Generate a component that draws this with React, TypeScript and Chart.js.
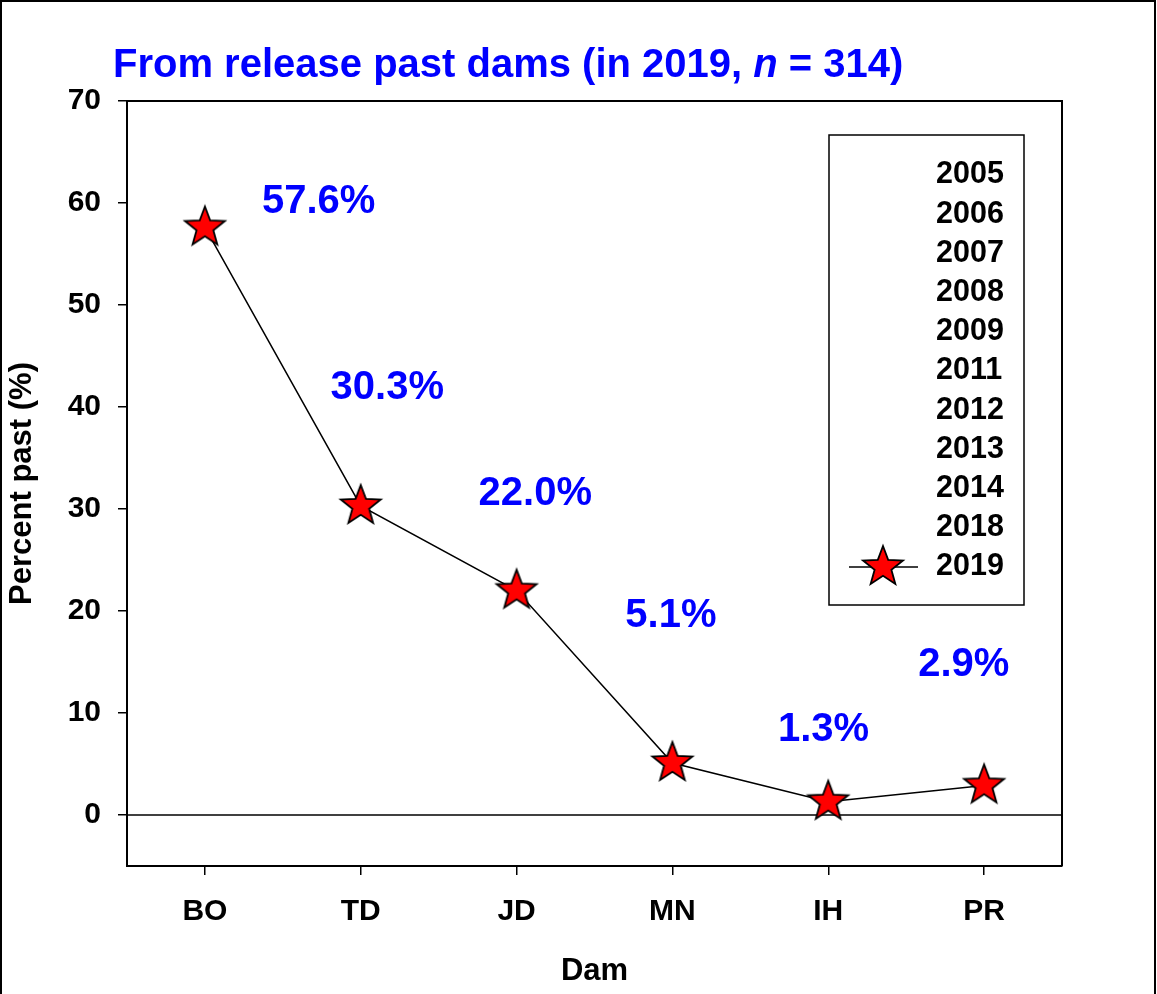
import React, { useEffect, useRef } from "react";
import { Chart, registerables } from "chart.js";

Chart.register(...registerables);

const DAMS = ["BO", "TD", "JD", "MN", "IH", "PR"];
const PERCENT_PAST_2019 = [57.6, 30.3, 22.0, 5.1, 1.3, 2.9];
const VALUE_LABELS = ["57.6%", "30.3%", "22.0%", "5.1%", "1.3%", "2.9%"];
// label anchors in data units (category index, percent)
const LABEL_ANCHOR_X = [0.73, 1.17, 2.12, 2.99, 3.97, 4.87];
const LABEL_ANCHOR_Y = [60.1, 41.9, 31.5, 19.5, 8.3, 14.7];
const Y_TICKS = [0, 10, 20, 30, 40, 50, 60, 70];
const LEGEND_YEARS = ["2005", "2006", "2007", "2008", "2009", "2011", "2012", "2013", "2014", "2018", "2019"];
const MARKED_YEAR = "2019";

const FONT = "'Liberation Sans', Arial, Helvetica, sans-serif";
const BLUE = "#0000FF";

function makeStar(R: number, fill: string, stroke: string, lw: number): HTMLCanvasElement {
  const size = Math.ceil(2 * R + lw * 2 + 4);
  const c = document.createElement("canvas");
  c.width = size;
  c.height = size;
  const ctx = c.getContext("2d")!;
  const cx = size / 2;
  const cy = size / 2;
  const r = R * 0.42;
  ctx.beginPath();
  for (let i = 0; i < 10; i++) {
    const rad = i % 2 === 0 ? R : r;
    const a = -Math.PI / 2 + (i * Math.PI) / 5;
    const x = cx + rad * Math.cos(a);
    const y = cy + rad * Math.sin(a);
    if (i === 0) ctx.moveTo(x, y);
    else ctx.lineTo(x, y);
  }
  ctx.closePath();
  ctx.fillStyle = fill;
  ctx.fill();
  ctx.lineWidth = lw;
  ctx.strokeStyle = stroke;
  ctx.lineJoin = "miter";
  ctx.stroke();
  return c;
}

export default function App() {
  const ref = useRef<HTMLCanvasElement | null>(null);

  useEffect(() => {
    document.body.style.margin = "0";
    const canvas = ref.current;
    if (!canvas) return;
    const star = makeStar(21, "#FF0000", "#000000", 1.8);

    const decorPlugin = {
      id: "decor",
      beforeDraw(chart: any) {
        const ctx = chart.ctx;
        ctx.save();
        ctx.fillStyle = "#fff";
        ctx.fillRect(0, 0, chart.width, chart.height);
        ctx.restore();
      },
      afterDatasetsDraw(chart: any) {
        const ctx = chart.ctx;
        const { left, right, top, bottom } = chart.chartArea;
        const xs = chart.scales.x;
        const ys = chart.scales.y;
        ctx.save();
        // frame top/right
        ctx.strokeStyle = "#000";
        ctx.lineWidth = 2;
        ctx.beginPath();
        ctx.moveTo(left, top);
        ctx.lineTo(right, top);
        ctx.lineTo(right, bottom);
        ctx.stroke();
        // value labels
        ctx.fillStyle = BLUE;
        ctx.font = `bold 40px ${FONT}`;
        ctx.textAlign = "center";
        ctx.textBaseline = "middle";
        VALUE_LABELS.forEach((t, i) => {
          ctx.fillText(t, xs.getPixelForValue(LABEL_ANCHOR_X[i]), ys.getPixelForValue(LABEL_ANCHOR_Y[i]));
        });
        // title
        ctx.textAlign = "left";
        ctx.textBaseline = "alphabetic";
        const tx = 113;
        const ty = 77;
        const p1 = "From release past dams (in 2019, ";
        const p2 = "n";
        const p3 = " = 314)";
        ctx.font = `bold 40px ${FONT}`;
        ctx.fillText(p1, tx, ty);
        const w1 = ctx.measureText(p1).width;
        ctx.font = `italic bold 40px ${FONT}`;
        ctx.fillText(p2, tx + w1, ty);
        const w2 = ctx.measureText(p2).width;
        ctx.font = `bold 40px ${FONT}`;
        ctx.fillText(p3, tx + w1 + w2, ty);
        // legend
        const lx = 829, ly = 135, lw = 195, lh = 470;
        ctx.fillStyle = "#fff";
        ctx.fillRect(lx, ly, lw, lh);
        ctx.strokeStyle = "#000";
        ctx.lineWidth = 1.5;
        ctx.strokeRect(lx, ly, lw, lh);
        ctx.fillStyle = "#000";
        ctx.font = `bold 30.5px ${FONT}`;
        ctx.textBaseline = "middle";
        LEGEND_YEARS.forEach((yr, i) => {
          const yy = 175 + i * 39.2;
          ctx.fillStyle = "#000";
          ctx.fillText(yr, 936, yy);
          if (yr === MARKED_YEAR) {
            ctx.lineWidth = 1.5;
            ctx.beginPath();
            ctx.moveTo(849, yy);
            ctx.lineTo(918, yy);
            ctx.stroke();
            ctx.drawImage(star, 883 - star.width / 2, yy - star.height / 2);
          }
        });
        // page frame
        ctx.strokeStyle = "#000";
        ctx.lineWidth = 2;
        ctx.beginPath();
        ctx.moveTo(1, chart.height);
        ctx.lineTo(1, 1);
        ctx.lineTo(1155, 1);
        ctx.lineTo(1155, chart.height);
        ctx.stroke();
        ctx.restore();
      },
      beforeDatasetsDraw(chart: any) {
        const ctx = chart.ctx;
        const { left, right } = chart.chartArea;
        const y0 = chart.scales.y.getPixelForValue(0);
        ctx.save();
        ctx.strokeStyle = "#000";
        ctx.lineWidth = 1.6;
        ctx.beginPath();
        ctx.moveTo(left, y0);
        ctx.lineTo(right, y0);
        ctx.stroke();
        ctx.restore();
      },
    };

    const chart = new Chart(canvas, {
      type: "line",
      data: {
        labels: DAMS,
        datasets: [
          {
            label: MARKED_YEAR,
            data: PERCENT_PAST_2019,
            borderColor: "#000",
            borderWidth: 1.5,
            tension: 0,
            pointStyle: star as any,
            pointRadius: 21,
            pointHoverRadius: 21,
            fill: false,
          },
        ],
      },
      options: {
        animation: false,
        responsive: true,
        maintainAspectRatio: false,
        layout: { padding: { left: 0, top: 101, right: 95, bottom: 0 } },
        plugins: {
          legend: { display: false },
          tooltip: { enabled: false },
          title: { display: false },
        },
        scales: {
          x: {
            type: "category",
            offset: true,
            grid: { drawOnChartArea: false, drawTicks: true, tickLength: 9, color: "#000", lineWidth: 1.5 },
            border: { display: true, color: "#000", width: 2 },
            ticks: { color: "#000", font: { family: FONT, size: 30, weight: "bold" }, padding: 19, maxRotation: 0 },
            title: {
              display: true,
              text: "Dam",
              color: "#000",
              font: { family: FONT, size: 31, weight: "bold" },
              padding: { top: 0, bottom: 4 },
            },
            afterFit(scale: any) {
              scale.height = 128;
            },
          },
          y: {
            type: "linear",
            min: -5,
            max: 70,
            afterBuildTicks(scale: any) {
              scale.ticks = Y_TICKS.map((v) => ({ value: v }));
            },
            grid: { drawOnChartArea: false, drawTicks: true, tickLength: 9, color: "#000", lineWidth: 1.5 },
            border: { display: true, color: "#000", width: 2 },
            ticks: { color: "#000", font: { family: FONT, size: 30, weight: "bold" }, padding: 17 },
            title: {
              display: true,
              text: "Percent past (%)",
              color: "#000",
              font: { family: FONT, size: 31, weight: "bold" },
              padding: { top: 4, bottom: 0 },
            },
            afterFit(scale: any) {
              scale.width = 127;
            },
          },
        },
      },
      plugins: [decorPlugin],
    });

    return () => chart.destroy();
  }, []);

  return (
    <div style={{ width: 1157, height: 994, position: "relative" }}>
      <canvas ref={ref} />
    </div>
  );
}
